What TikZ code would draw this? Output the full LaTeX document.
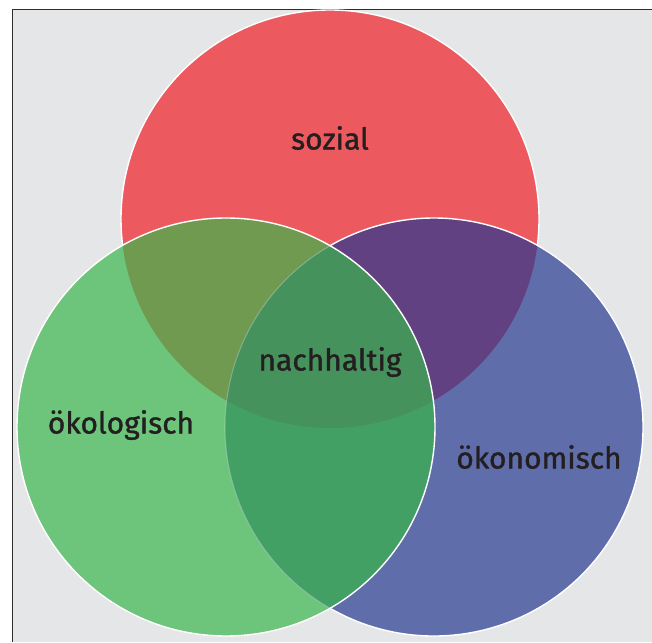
\documentclass[tikz,border=0pt]{standalone}
\usepackage{fontspec}
\setmainfont{Fira Sans}
\newfontfamily\lblfont[FakeBold=1.2]{Fira Sans}
\usetikzlibrary{calc}
\definecolor{bg}{HTML}{E5E6E8}
\definecolor{cred}{HTML}{EC5A60}
\definecolor{cgreen}{HTML}{6DC47B}
\definecolor{cblue}{HTML}{606DAB}
\definecolor{crg}{HTML}{6F9A50}
\definecolor{crb}{HTML}{614181}
\definecolor{cgb}{HTML}{43A065}
\definecolor{crgb}{HTML}{46925C}
\definecolor{ctext}{HTML}{231F20}
\definecolor{frame}{HTML}{2E2E2E}
\tikzset{
  rim/.style={draw=white, line width=1.4pt},
  lbl/.style={text=ctext, font=\lblfont\fontsize{30}{34}\selectfont, inner sep=0pt}
}
\begin{document}
\begin{tikzpicture}[x=1pt,y=1pt]
\useasboundingbox (0,0) rectangle (652,642);
\fill[white] (0,0) rectangle (652,642);
\fill[bg] (12.5,0) rectangle (652,632.5);
\draw[frame, line width=1.5pt] (12.5,0) -- (12.5,632.5) -- (652,632.5);
\coordinate (R) at (330,423);
\coordinate (G) at (226,215);
\coordinate (B) at (434,215);
\def\rr{209}
% red base with its outline
\fill[cred] (R) circle (\rr);
\draw[rim] (R) circle (\rr);
% green and blue bases
\fill[cgreen] (G) circle (\rr);
\fill[cblue] (B) circle (\rr);
% pair overlaps
\begin{scope}\clip (R) circle (\rr); \fill[crg] (G) circle (\rr); \end{scope}
\begin{scope}\clip (R) circle (\rr); \fill[crb] (B) circle (\rr); \end{scope}
\begin{scope}\clip (G) circle (\rr); \fill[cgb] (B) circle (\rr); \end{scope}
\begin{scope}\clip (R) circle (\rr); \clip (G) circle (\rr); \fill[crgb] (B) circle (\rr); \end{scope}
% outlines
\draw[rim] (G) circle (\rr);
\draw[rim] ($(B)+(-119.9:\rr)$) arc[start angle=-119.9, end angle=119.9, radius=\rr];
\draw[draw=white, draw opacity=0.3, line width=1pt] ($(B)+(119.9:\rr)$) arc[start angle=119.9, end angle=240.1, radius=\rr];
% labels
\node[lbl] (soz) at (330,504) {sozial};
\node[lbl] (nach) at (330,280) {nachhaltig};
\node[lbl] (oeko) at (121,217) {ökologisch};
\node[lbl] (oekn) at (539,185) {ökonomisch};
\end{tikzpicture}
\end{document}
